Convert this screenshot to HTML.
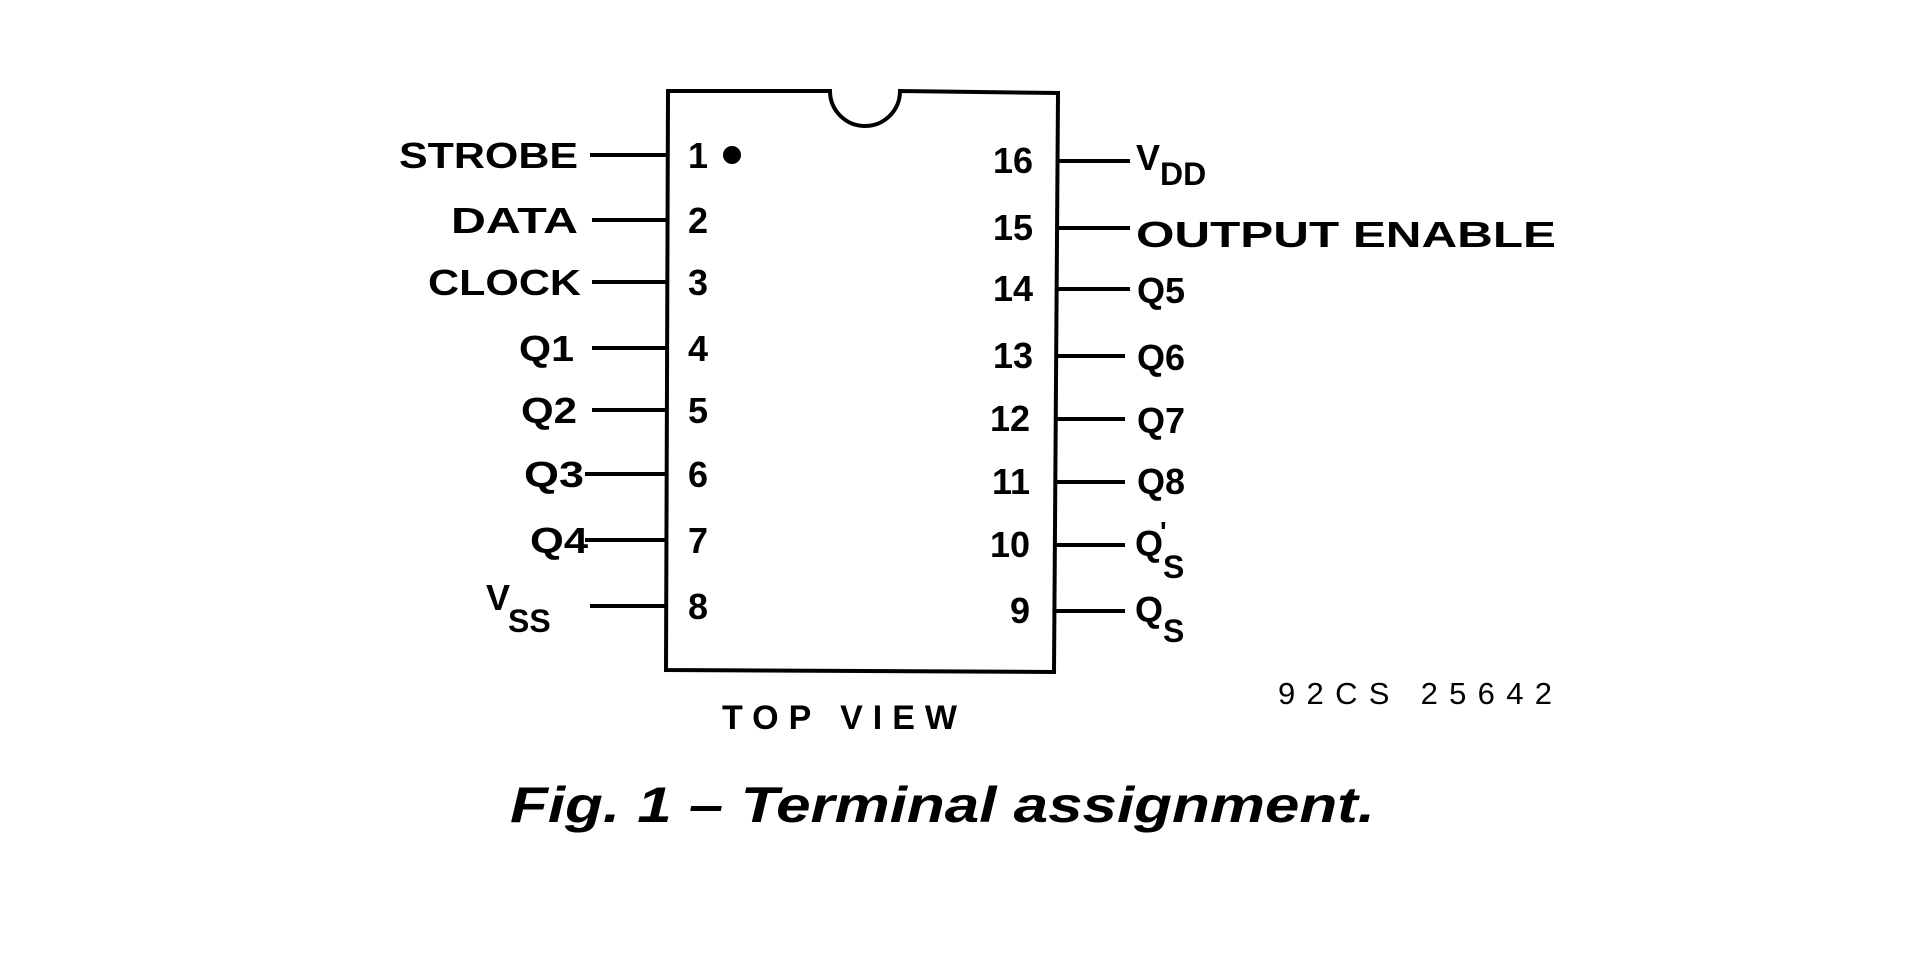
<!DOCTYPE html>
<html><head><style>html,body{margin:0;padding:0;background:#fff}svg{display:block}</style></head>
<body>
<svg width="1926" height="964" viewBox="0 0 1926 964" xmlns="http://www.w3.org/2000/svg" font-family="Liberation Sans, sans-serif" fill="#000">
<g stroke="#000" stroke-width="4" fill="none">
<path d="M668 91 L830 91 A35 35 0 0 0 900 91 L1058 93 L1054 672 L666 670 Z"/>
<line x1="590" y1="155" x2="668" y2="155"/>
<line x1="592" y1="220" x2="668" y2="220"/>
<line x1="592" y1="282" x2="668" y2="282"/>
<line x1="592" y1="348" x2="668" y2="348"/>
<line x1="592" y1="410" x2="668" y2="410"/>
<line x1="585" y1="474" x2="668" y2="474"/>
<line x1="585" y1="540" x2="668" y2="540"/>
<line x1="590" y1="606" x2="668" y2="606"/>
<line x1="1058" y1="161" x2="1130" y2="161"/>
<line x1="1058" y1="228" x2="1130" y2="228"/>
<line x1="1058" y1="289" x2="1130" y2="289"/>
<line x1="1058" y1="356" x2="1125" y2="356"/>
<line x1="1056" y1="419" x2="1125" y2="419"/>
<line x1="1056" y1="482" x2="1125" y2="482"/>
<line x1="1056" y1="545" x2="1125" y2="545"/>
<line x1="1056" y1="611" x2="1125" y2="611"/>
</g>
<circle cx="732" cy="155" r="9"/>
<g font-size="36" font-weight="bold">
<text x="399" y="168" textLength="179" lengthAdjust="spacingAndGlyphs">STROBE</text>
<text x="451" y="233" textLength="127" lengthAdjust="spacingAndGlyphs">DATA</text>
<text x="428" y="295" textLength="153" lengthAdjust="spacingAndGlyphs">CLOCK</text>
<text x="519" y="361" textLength="55" lengthAdjust="spacingAndGlyphs">Q1</text>
<text x="521" y="423" textLength="56" lengthAdjust="spacingAndGlyphs">Q2</text>
<text x="524" y="487" textLength="60" lengthAdjust="spacingAndGlyphs">Q3</text>
<text x="530" y="553" textLength="58" lengthAdjust="spacingAndGlyphs">Q4</text>
<text x="486" y="610">V</text><text x="508" y="632" font-size="32">SS</text>
<text x="688" y="168">1</text>
<text x="688" y="233">2</text>
<text x="688" y="295">3</text>
<text x="688" y="361">4</text>
<text x="688" y="423">5</text>
<text x="688" y="487">6</text>
<text x="688" y="553">7</text>
<text x="688" y="619">8</text>
<g text-anchor="end">
<text x="1033" y="173">16</text>
<text x="1033" y="240">15</text>
<text x="1033" y="301">14</text>
<text x="1033" y="368">13</text>
<text x="1030" y="431">12</text>
<text x="1030" y="494">11</text>
<text x="1030" y="557">10</text>
<text x="1030" y="623">9</text>
</g>
<text x="1136" y="170">V</text><text x="1160" y="185" font-size="32">DD</text>
<text x="1136" y="247" textLength="420" lengthAdjust="spacingAndGlyphs">OUTPUT  ENABLE</text>
<text x="1137" y="303">Q5</text>
<text x="1137" y="370">Q6</text>
<text x="1137" y="433">Q7</text>
<text x="1137" y="494">Q8</text>
<text x="1135" y="556">Q</text><text x="1160" y="541" font-size="28">'</text><text x="1163" y="578" font-size="32">S</text>
<text x="1135" y="622">Q</text><text x="1163" y="642" font-size="32">S</text>
</g>
<text x="1278" y="704" font-size="31" textLength="274" lengthAdjust="spacing">92CS  25642</text>
<text x="722" y="729" font-size="34" font-weight="bold" textLength="235" lengthAdjust="spacing">TOP VIEW</text>
<text x="510" y="822" font-size="50" font-weight="bold" font-style="italic" textLength="865" lengthAdjust="spacingAndGlyphs">Fig. 1 – Terminal assignment.</text>
</svg>
</body></html>
